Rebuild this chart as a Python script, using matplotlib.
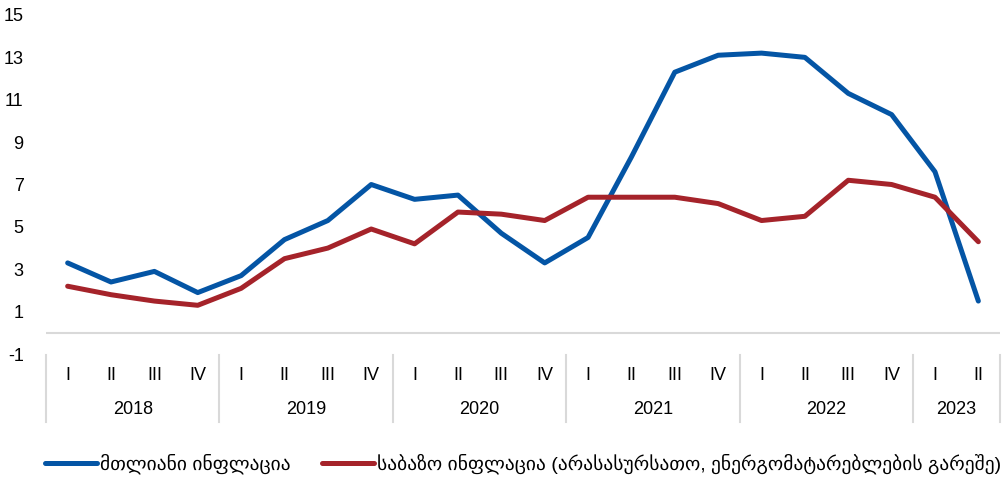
import matplotlib.pyplot as plt
import matplotlib.transforms as mtransforms

plt.rcParams['font.family'] = ['Liberation Sans', 'DejaVu Sans']
plt.rcParams['axes.unicode_minus'] = False

years = ['2018', '2019', '2020', '2021', '2022', '2023']
quarters = ['I', 'II', 'III', 'IV'] * 5 + ['I', 'II']

# მთლიანი ინფლაცია
headline = [3.3, 2.4, 2.9, 1.9,
            2.7, 4.4, 5.3, 7.0,
            6.3, 6.5, 4.7, 3.3,
            4.5, 8.3, 12.3, 13.1,
            13.2, 13.0, 11.3, 10.3,
            7.6, 1.5]

# საბაზო ინფლაცია
core = [2.2, 1.8, 1.5, 1.3,
        2.1, 3.5, 4.0, 4.9,
        4.2, 5.7, 5.6, 5.3,
        6.4, 6.4, 6.4, 6.1,
        5.3, 5.5, 7.2, 7.0,
        6.4, 4.3]

label_headline = 'მთლიანი ინფლაცია'
label_core = 'საბაზო ინფლაცია (არასასურსათო, ენერგომატარებლების გარეშე)'

blue = '#0455A5'
red = '#A5232A'
grey = '#d9d9d9'

fig = plt.figure(figsize=(10.08, 4.83), dpi=100)
ax = fig.add_axes([0.0456, 0.267, 0.9465, 0.702])

x = list(range(len(quarters)))
ax.plot(x, headline, color=blue, lw=3.6, solid_capstyle='round', label=label_headline)
ax.plot(x, core, color=red, lw=3.6, solid_capstyle='round', label=label_core)

ax.set_xlim(-0.5, len(quarters) - 0.5)
ax.set_ylim(-1, 15)
ax.set_yticks(range(-1, 16, 2))
ax.tick_params(axis='y', length=0, pad=16, labelsize=13)
ax.set_xticks([])
for s in ax.spines.values():
    s.set_visible(False)
ax.axhline(0, color=grey, lw=1.5, zorder=0)

# two-level category axis
trans = mtransforms.blended_transform_factory(ax.transData, ax.transAxes)
for i, q in enumerate(quarters):
    ax.text(i, -0.062, q, transform=trans, ha='center', va='center', fontsize=13)

starts = [0, 4, 8, 12, 16, 20, 22]
for k, yr in enumerate(years):
    mid = (starts[k] + starts[k + 1] - 1) / 2
    ax.text(mid, -0.165, yr, transform=trans, ha='center', va='center', fontsize=13)
for b in starts:
    ax.plot([b - 0.5, b - 0.5], [-0.003, -0.2], transform=trans, color=grey,
            lw=1.5, clip_on=False)

fig.legend(loc='lower left', bbox_to_anchor=(0.027, -0.018), ncol=2, frameon=False,
           fontsize=14, handlelength=2.7, handletextpad=0.15, columnspacing=1.6)

fig.savefig('out.png', dpi=100)
